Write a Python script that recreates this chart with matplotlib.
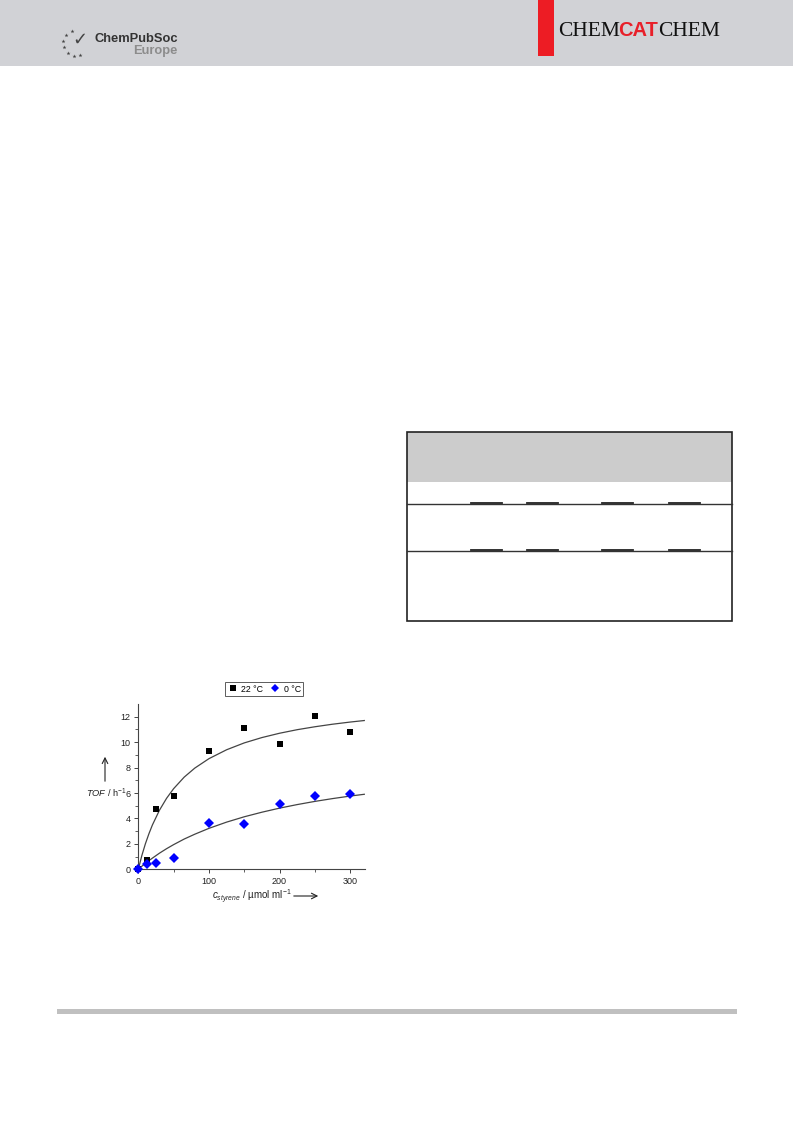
import numpy as np
import matplotlib
matplotlib.use('Agg')
import matplotlib.pyplot as plt
from matplotlib.patches import Rectangle

plt.rcParams['font.family'] = ['Liberation Sans', 'DejaVu Sans']
plt.rcParams['mathtext.fontset'] = 'custom'
plt.rcParams['mathtext.it'] = 'Liberation Sans:italic'
plt.rcParams['mathtext.rm'] = 'Liberation Sans'

# TOF vs styrene concentration
conc = [0, 12.5, 25, 50, 100, 150, 200, 250, 300]
tof22 = [0, 0.73, 4.78, 5.8, 9.3, 11.1, 9.87, 12.05, 10.8]
tof0 = [0, 0.4, 0.5, 0.9, 3.63, 3.6, 5.12, 5.78, 5.93]

# fitted curves
fitX = [0, 5, 10, 15, 20, 30, 40, 50, 65, 80, 100, 125, 150, 175, 200, 225, 250, 275, 300, 320]
fit22 = [0, 1.08, 2.0, 2.79, 3.49, 4.65, 5.58, 6.34, 7.25, 7.96, 8.70, 9.40, 9.94, 10.36, 10.70, 10.98, 11.21, 11.41, 11.58, 11.70]
fit0 = [0, 0.24, 0.46, 0.68, 0.88, 1.27, 1.62, 1.94, 2.38, 2.76, 3.22, 3.71, 4.13, 4.49, 4.81, 5.09, 5.34, 5.56, 5.76, 5.90]

legendLabels = ['22 °C', '0 °C']
xTicks = [0, 100, 200, 300]
yTicks = [0, 2, 4, 6, 8, 10, 12]

W, H = 793, 1121
fig = plt.figure(figsize=(W/100, H/100), dpi=100)
fig.patch.set_facecolor('white')

# page layer in pixel coords
pg = fig.add_axes([0, 0, 1, 1])
pg.set_xlim(0, W)
pg.set_ylim(H, 0)
pg.axis('off')

pg.add_patch(Rectangle((0, 0), W, 66, color='#d1d2d6', lw=0))
pg.add_patch(Rectangle((538, 0), 16, 56, color='#ed1c24', lw=0))
pg.text(558, 31, 'CHEM', family='Liberation Serif', fontsize=15.5, color='#111111', va='center', ha='left')
pg.text(618, 31, 'CAT', family='Liberation Sans', fontweight='bold', fontsize=14.5, color='#e8202a', va='center', ha='left')
pg.text(658, 31, 'CHEM', family='Liberation Serif', fontsize=15.5, color='#111111', va='center', ha='left')

# ChemPubSoc logo
pg.text(178, 38.5, 'ChemPubSoc', fontweight='bold', fontsize=9.3, color='#333333', va='center', ha='right')
pg.text(178, 51, 'Europe', fontweight='bold', fontsize=9.3, color='#8c8c8c', va='center', ha='right')
ang = np.radians([110, 140, 170, 200, 230, 260, 290])
pg.scatter(76+13*np.cos(ang), 43-13*np.sin(ang), marker='*', s=9, color='#444444', lw=0)
pg.text(80, 40, '✓', fontsize=13, color='#444444', va='center', ha='center', family='DejaVu Sans', fontweight='bold')

# table
pg.add_patch(Rectangle((407, 432), 325, 50, color='#cccccc', lw=0))
pg.add_patch(Rectangle((407, 432), 325, 189, fill=False, ec='#222222', lw=1.2))
for yy in [504, 550.5]:
    pg.plot([407, 732], [yy, yy], color='#333333', lw=1.0)
    for x1, x2 in [(471, 502), (527, 558), (602, 633), (669, 700)]:
        pg.plot([x1, x2], [yy-0.8, yy-0.8], color='#222222', lw=1.3)

pg.add_patch(Rectangle((57, 1009), 680, 5, color='#c0c0c0', lw=0))

# axis labels and arrows
pg.text(212, 897, r'$c_{styrene}$ / µmol ml$^{-1}$', fontsize=7, color='#222222', va='center', ha='left')
pg.annotate('', xy=(321, 896), xytext=(291, 896), arrowprops=dict(arrowstyle='->', lw=0.8, color='#222222'))
pg.text(86, 793, r'$TOF$ / h$^{-1}$', fontsize=6.7, color='#222222', va='center', ha='left')
pg.annotate('', xy=(105, 754), xytext=(105, 784), arrowprops=dict(arrowstyle='->', lw=0.8, color='#222222'))

# chart
ax = fig.add_axes([138.3/W, 1-869.3/H, (365-138.3)/W, (869.3-704)/H])
ax.set_facecolor('none')
ax.plot(fitX, fit22, color='#444444', lw=0.9, zorder=2)
ax.plot(fitX, fit0, color='#444444', lw=0.9, zorder=2)
ax.plot(conc, tof22, 's', color='black', ms=4.4, mew=0, label=legendLabels[0], zorder=3, clip_on=False)
ax.plot(conc, tof0, 'D', color='#0000ff', ms=4.7, mew=0, label=legendLabels[1], zorder=3, clip_on=False)
ax.set_xlim(0, 321)
ax.set_ylim(0, 13)
ax.set_xticks(xTicks)
ax.set_yticks(yTicks)
ax.set_xticks([50, 150, 250], minor=True)
ax.set_yticks([1, 3, 5, 7, 9, 11], minor=True)
ax.spines['top'].set_visible(False)
ax.spines['right'].set_visible(False)
for s in ['left', 'bottom']:
    ax.spines[s].set_color('#444444')
    ax.spines[s].set_linewidth(0.8)
ax.tick_params(which='major', direction='out', length=3, width=0.7, color='#444444', labelsize=6.5, labelcolor='#222222', pad=2.5)
ax.tick_params(which='minor', direction='out', length=2, width=0.6, color='#444444')

leg = ax.legend(loc='center', bbox_to_anchor=(264/W, 1-689/H), bbox_transform=fig.transFigure,
                ncol=2, fontsize=6.3, frameon=True, fancybox=False, handletextpad=0.4,
                columnspacing=0.7, borderpad=0.3, borderaxespad=0, handlelength=1.2, markerscale=0.9)
leg.get_frame().set_edgecolor('#333333')
leg.get_frame().set_linewidth(0.7)

fig.savefig('out.png', dpi=100)
